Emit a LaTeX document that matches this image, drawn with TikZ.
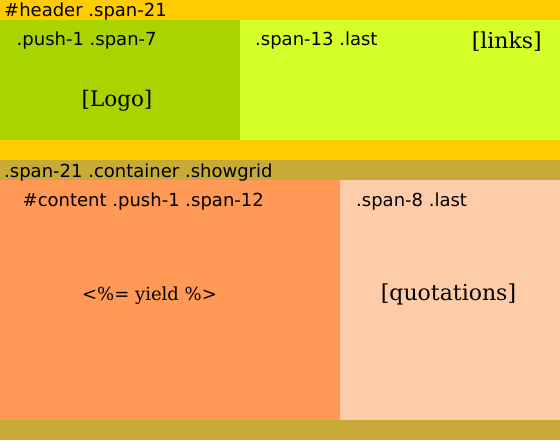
\documentclass[tikz,border=0pt]{standalone}
\usepackage{fontspec}
\setmainfont{DejaVu Serif}
\setsansfont{DejaVu Sans}
\definecolor{hdr}{HTML}{FFCC00}
\definecolor{logo}{HTML}{AAD400}
\definecolor{links}{HTML}{D4FF2A}
\definecolor{cont}{HTML}{C8AB37}
\definecolor{content}{HTML}{FF9955}
\definecolor{quot}{HTML}{FFCCAA}
\tikzset{
  lbl/.style={inner sep=0pt, anchor=base west, font=\sffamily\fontsize{18}{20}\selectfont},
  ser/.style={inner sep=0pt, anchor=base, font=\rmfamily\fontsize{22}{24}\selectfont},
}
\begin{document}
\begin{tikzpicture}[x=1pt,y=-1pt]
\useasboundingbox (0,0) rectangle (560,440);
\fill[hdr] (0,0) rectangle (560,160);
\fill[logo] (0,20) rectangle (240,140);
\fill[links] (240,20) rectangle (560,140);
\fill[cont] (0,160) rectangle (560,440);
\fill[content] (0,180) rectangle (340,420);
\fill[quot] (340,180) rectangle (560,420);
\node[lbl] (h) at (4,16) {\#header .span-21};
\node[lbl] (p1) at (16.5,45) {.push-1 .span-7};
\node[lbl] (p2) at (255,45) {.span-13 .last};
\node[ser, anchor=base east] (lk) at (542,48) {[links]};
\node[ser, font=\rmfamily\fontsize{21.5}{24}\selectfont] (lg) at (117,106) {[Logo]};
\node[lbl] (c) at (4,177) {.span-21 .container .showgrid};
\node[lbl] (ct) at (22.5,206) {\#content .push-1 .span-12};
\node[lbl] (s8) at (356,206) {.span-8 .last};
\node[ser, font=\rmfamily\fontsize{18}{20}\selectfont] (y) at (149.5,300) {<\%= yield \%>};
\node[ser] (q) at (448.5,300) {[quotations]};
\end{tikzpicture}
\end{document}
